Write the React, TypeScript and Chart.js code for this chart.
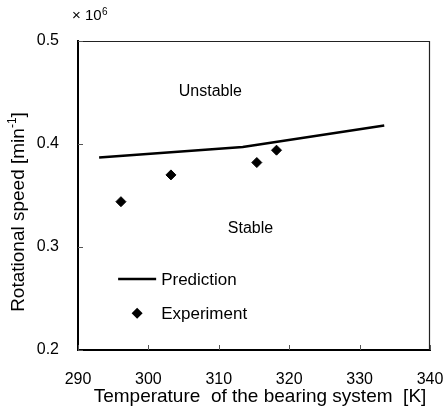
import React, { useEffect, useRef } from "react";
import { Chart, registerables } from "chart.js";

Chart.register(...registerables);

const predictionTemp = [293, 313.4, 333.5];
const predictionSpeed = [0.387, 0.397, 0.418];
const experimentTemp = [296.1, 303.2, 315.4, 318.2];
const experimentSpeed = [0.344, 0.37, 0.382, 0.394];
const xTicks = [290, 300, 310, 320, 330, 340];
const yTicks = [0.2, 0.3, 0.4, 0.5];
const seriesNames = ["Prediction", "Experiment"];
const regionLabels = ["Unstable", "Stable"];
const xTitle = "Temperature  of the bearing system  [K]";

const FONT = '"Liberation Sans", Arial, sans-serif';

const decorPlugin = {
  id: "decor",
  afterDraw(chart: any) {
    const { ctx, chartArea, scales } = chart;
    const xs = scales.x;
    const ys = scales.y;
    ctx.save();
    // top and right frame
    ctx.strokeStyle = "#222";
    ctx.lineWidth = 1.2;
    ctx.beginPath();
    ctx.moveTo(chartArea.left, chartArea.top + 0.5);
    ctx.lineTo(chartArea.right - 0.5, chartArea.top + 0.5);
    ctx.lineTo(chartArea.right - 0.5, chartArea.bottom);
    ctx.stroke();
    // inward ticks
    ctx.strokeStyle = "#555";
    ctx.lineWidth = 1;
    ctx.beginPath();
    xTicks.forEach((v) => {
      const px = Math.round(xs.getPixelForValue(v)) + 0.5;
      ctx.moveTo(px, chartArea.bottom);
      ctx.lineTo(px, chartArea.bottom - 5);
    });
    yTicks.forEach((v) => {
      const py = Math.round(ys.getPixelForValue(v)) + 0.5;
      ctx.moveTo(chartArea.left, py);
      ctx.lineTo(chartArea.left + 5, py);
    });
    ctx.stroke();

    ctx.fillStyle = "#000";
    ctx.textBaseline = "middle";
    // region labels
    ctx.font = `16px ${FONT}`;
    ctx.textAlign = "center";
    ctx.fillText(regionLabels[0], xs.getPixelForValue(308.8), ys.getPixelForValue(0.4508));
    ctx.fillText(regionLabels[1], xs.getPixelForValue(314.5), ys.getPixelForValue(0.3183));

    // legend
    const lx0 = xs.getPixelForValue(295.7);
    const lx1 = xs.getPixelForValue(301.1);
    const ly1 = ys.getPixelForValue(0.2689);
    const ly2 = ys.getPixelForValue(0.2357);
    ctx.strokeStyle = "#000";
    ctx.lineWidth = 2.5;
    ctx.beginPath();
    ctx.moveTo(lx0, ly1);
    ctx.lineTo(lx1, ly1);
    ctx.stroke();
    const dx = (lx0 + lx1) / 2;
    ctx.beginPath();
    ctx.moveTo(dx, ly2 - 5.5);
    ctx.lineTo(dx + 5.5, ly2);
    ctx.lineTo(dx, ly2 + 5.5);
    ctx.lineTo(dx - 5.5, ly2);
    ctx.closePath();
    ctx.fill();
    ctx.font = `17px ${FONT}`;
    ctx.textAlign = "left";
    ctx.fillText(seriesNames[0], lx1 + 5, ly1 + 1.5);
    ctx.fillText(seriesNames[1], lx1 + 5, ly2 + 1);

    // x axis title
    ctx.font = `19px ${FONT}`;
    ctx.textAlign = "center";
    ctx.fillText(xTitle, 260, 397);

    // y axis title with superscript
    ctx.textAlign = "left";
    const parts: [string, number, number][] = [
      ["Rotational speed [min", 19, 0],
      ["-1", 12, -6],
      ["]", 19, 0],
    ];
    let total = 0;
    const widths = parts.map(([t, s]) => {
      ctx.font = `${s}px ${FONT}`;
      const w = ctx.measureText(t).width;
      total += w;
      return w;
    });
    ctx.translate(19, 212);
    ctx.rotate(-Math.PI / 2);
    let cx = -total / 2;
    parts.forEach(([t, s, off], i) => {
      ctx.font = `${s}px ${FONT}`;
      ctx.fillText(t, cx, off);
      cx += widths[i];
    });
    ctx.setTransform(1, 0, 0, 1, 0, 0);

    // multiplier
    ctx.font = `15px ${FONT}`;
    ctx.textAlign = "left";
    ctx.fillText("\u00d7 10", 72, 16);
    const w10 = ctx.measureText("\u00d7 10").width;
    ctx.font = `10px ${FONT}`;
    ctx.fillText("6", 72 + w10 + 0.5, 12);
    ctx.restore();
  },
};

export default function App() {
  const ref = useRef<HTMLCanvasElement | null>(null);
  useEffect(() => {
    document.body.style.margin = "0";
    if (!ref.current) return;
    const chart = new Chart(ref.current, {
      type: "scatter",
      data: {
        datasets: [
          {
            label: seriesNames[0],
            data: predictionTemp.map((x, i) => ({ x, y: predictionSpeed[i] })),
            showLine: true,
            borderColor: "#000",
            borderWidth: 2.5,
            pointRadius: 0,
            tension: 0,
          },
          {
            label: seriesNames[1],
            data: experimentTemp.map((x, i) => ({ x, y: experimentSpeed[i] })),
            showLine: false,
            pointStyle: "rectRot",
            pointRadius: 5,
            backgroundColor: "#000",
            borderColor: "#000",
            borderWidth: 1,
          },
        ],
      },
      options: {
        responsive: false,
        animation: false,
        devicePixelRatio: 1,
        layout: { padding: { top: 41, right: 16, left: 0, bottom: 0 } },
        plugins: { legend: { display: false }, tooltip: { enabled: false } },
        scales: {
          x: {
            type: "linear",
            min: 290,
            max: 340,
            afterFit: (s: any) => {
              s.height = 69;
              s.paddingLeft = 0;
              s.paddingRight = 0;
            },
            afterBuildTicks: (s: any) => {
              s.ticks = xTicks.map((v) => ({ value: v }));
            },
            ticks: {
              padding: 20,
              color: "#000",
              font: { family: FONT, size: 16 },
              callback: (v: any) => String(v),
            },
            grid: { display: false, drawTicks: false },
            border: { display: true, color: "#000", width: 2 },
            title: { display: false },
          },
          y: {
            type: "linear",
            min: 0.2,
            max: 0.5,
            afterFit: (s: any) => {
              s.width = 78;
              s.paddingTop = 0;
              s.paddingBottom = 0;
            },
            afterBuildTicks: (s: any) => {
              s.ticks = yTicks.map((v) => ({ value: v }));
            },
            ticks: {
              padding: 19,
              color: "#000",
              font: { family: FONT, size: 16 },
              callback: (v: any) => Number(v).toFixed(1),
            },
            grid: { display: false, drawTicks: false },
            border: { display: true, color: "#000", width: 2 },
          },
        },
      },
      plugins: [decorPlugin],
    } as any);
    return () => chart.destroy();
  }, []);
  return (
    <div style={{ width: 446, height: 419 }}>
      <canvas ref={ref} width={446} height={419} style={{ display: "block" }} />
    </div>
  );
}
